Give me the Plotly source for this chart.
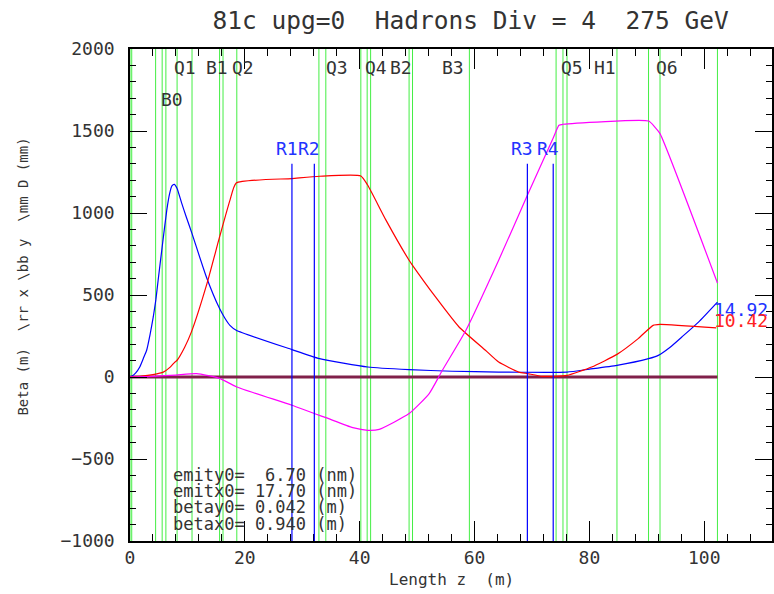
import plotly.graph_objects as go

# ---------------- data ----------------
blue_s = [0.0, 0.3, 1.0, 1.7, 2.4, 2.9, 3.5, 4.05, 4.5, 4.9, 5.6, 6.4, 6.9, 7.3, 7.7, 8.2, 9.0, 9.8, 10.8,
          13.3, 15.6, 16.5, 17.4, 18.5, 28.2, 33.0, 41.4, 48.6, 56.1, 64.2, 67.7, 76.1, 80.0, 84.8,
          90.3, 92.0, 94.0, 96.1, 99.0, 102.3]
blue_v = [0, 4, 25, 61, 120, 163, 260, 366, 470, 590, 793, 1016, 1118, 1165, 1175, 1150, 1060, 976, 874,
          610, 417, 360, 315, 285, 167, 112, 61, 45, 35, 30, 29, 30, 48, 71,
          112, 132, 180, 244, 335, 457]

red_s = [0.0, 2.0, 4.0, 5.8, 7.0, 7.8, 8.2, 9.5, 10.7, 13.4, 15.6, 17.4, 18.5, 28.2, 33.0, 40.2, 41.4,
         44.6, 48.6, 49.2, 53.2, 57.3, 61.9, 64.2, 67.7, 69.2, 71.8, 76.1, 80.4, 84.8, 88.5, 91.1,
         92.3, 102.1]
red_v = [0, 5, 15, 30, 60, 91, 102, 180, 275, 569, 854, 1077, 1183, 1210, 1224, 1226, 1169,
         955, 712, 681, 488, 305, 163, 91, 30, 21, 4, 10, 61, 138, 234, 315,
         321, 299]

mag_s = [0.0, 4.0, 8.0, 11.6, 15.6, 18.6, 28.2, 34.1, 38.8, 41.4, 43.4, 48.6, 52.1, 54.4, 58.5,
         64.2, 69.2, 73.7, 74.7, 75.4, 90.3, 91.4, 92.3, 102.3]
mag_v = [0, 4, 12, 20, -8, -61, -172, -248, -309, -325, -319, -223, -101, 41, 285,
         712, 1108, 1457, 1535, 1541, 1561, 1524, 1484, 573]

green_s = [0.0, 0.3, 4.46, 5.6, 6.25, 8.2, 10.8, 15.6, 16.2, 18.6, 32.9, 34.1, 40.2, 41.3, 41.9,
           48.6, 49.2, 59.1, 74.2, 75.4, 76.1, 84.8, 90.3, 92.3, 102.3]

rmon_s = [28.2, 32.1, 69.2, 73.7]
rmon_names = ["R1", "R2", "R3", "R4"]
rmon_top = 1300

elem_names = ["B0", "Q1", "B1", "Q2", "Q3", "Q4", "B2", "B3", "Q5", "H1", "Q6"]
elem_s = [5.1, 7.3, 12.9, 17.4, 33.7, 40.6, 45.0, 54.0, 74.7, 80.4, 91.3]
elem_row = [1, 0, 0, 0, 0, 0, 0, 0, 0, 0, 0]

info_lines = ["emity0=  6.70 (nm)", "emitx0= 17.70 (nm)", "betay0= 0.042 (m)", "betax0= 0.940 (m)"]
end_labels = ["14.92", "10.42"]

title = "81c upg=0  Hadrons Div = 4  275 GeV"
xtitle = "Length z  (m)"
ytitle = "Beta (m)  \\rr x \\bb y  \\mm D (mm)"

FONT = "DejaVu Sans Mono"
TXT = "#333333"

fig = go.Figure()

# green element boundaries
for s in green_s:
    fig.add_shape(type="line", x0=s, x1=s, y0=-1000, y1=2000, xref="x", yref="y",
                  line=dict(color="#44ee44", width=1), layer="below")

# zero line
fig.add_trace(go.Scatter(x=[0, 102.3], y=[0, 0], mode="lines",
                         line=dict(color="#80204a", width=3), hoverinfo="skip"))

# curves
for xs, ys, c in [(blue_s, blue_v, "#0000ff"), (red_s, red_v, "#ff0000"), (mag_s, mag_v, "#ff00ff")]:
    fig.add_trace(go.Scatter(x=xs, y=ys, mode="lines",
                             line=dict(color=c, width=1.2, shape="spline", smoothing=0.5)))

# monitor lines
for s, n in zip(rmon_s, rmon_names):
    fig.add_shape(type="line", x0=s, x1=s, y0=-1000, y1=rmon_top, xref="x", yref="y",
                  line=dict(color="#0000ff", width=1.2))
    fig.add_annotation(x=s - 0.9, y=rmon_top + 20, text=n, showarrow=False, xanchor="center",
                       yanchor="bottom", font=dict(family=FONT, size=18, color="#2233ff"))

# element labels
for n, s, r in zip(elem_names, elem_s, elem_row):
    fig.add_annotation(x=s, y=1890 - r * 195, text=n, showarrow=False, xanchor="left",
                       yanchor="middle", font=dict(family=FONT, size=18, color=TXT))

# info text
for i, t in enumerate(info_lines):
    fig.add_annotation(x=7.2, y=-595 - i * 100, text=t, showarrow=False, xanchor="left",
                       yanchor="middle", font=dict(family=FONT, size=17, color=TXT))

# end labels
fig.add_annotation(x=101.4, y=412, text=end_labels[0], showarrow=False, xanchor="left",
                   yanchor="middle", font=dict(family=FONT, size=18, color="#2233ff"))
fig.add_annotation(x=101.4, y=345, text=end_labels[1], showarrow=False, xanchor="left",
                   yanchor="middle", font=dict(family=FONT, size=18, color="#ff2222"))

# axis titles as annotations
fig.add_annotation(x=0.5, y=-0.079, xref="paper", yref="paper", text=xtitle, showarrow=False,
                   xanchor="center", yanchor="middle", font=dict(family=FONT, size=16, color=TXT))
fig.add_annotation(x=-0.167, y=0.537, xref="paper", yref="paper", text=ytitle, showarrow=False,
                   textangle=-90, xanchor="center", yanchor="middle",
                   font=dict(family=FONT, size=14, color=TXT))

fig.update_layout(
    width=774, height=594,
    margin=dict(l=130, r=2, t=49, b=53, autoexpand=False),
    paper_bgcolor="white", plot_bgcolor="white",
    showlegend=False,
    title=dict(text=title, x=0.608, xanchor="center", y=0.965, yanchor="middle",
               font=dict(family=FONT, size=24.5, color=TXT)),
    font=dict(family=FONT, color=TXT),
)
fig.update_xaxes(range=[0, 111.8], showgrid=False, zeroline=False, automargin=False,
                 showline=True, linecolor="black", linewidth=1.5, mirror="ticks",
                 ticks="inside", ticklen=20, tickcolor="black", dtick=20, tick0=0,
                 minor=dict(ticks="inside", ticklen=7, dtick=4, tickcolor="black"),
                 tickfont=dict(family=FONT, size=18, color=TXT))
fig.update_yaxes(range=[-1000, 2000], showgrid=False, zeroline=False, automargin=False,
                 showline=True, linecolor="black", linewidth=1.5, mirror="ticks",
                 ticks="inside", ticklen=17, tickcolor="black", dtick=500, tick0=0,
                 minor=dict(ticks="inside", ticklen=6, dtick=100, tickcolor="black"),
                 ticklabelstandoff=10,
                 tickfont=dict(family=FONT, size=18, color=TXT))

fig.write_html("out.html", config={"displayModeBar": False},
               post_script="document.body.style.margin='0px';")
